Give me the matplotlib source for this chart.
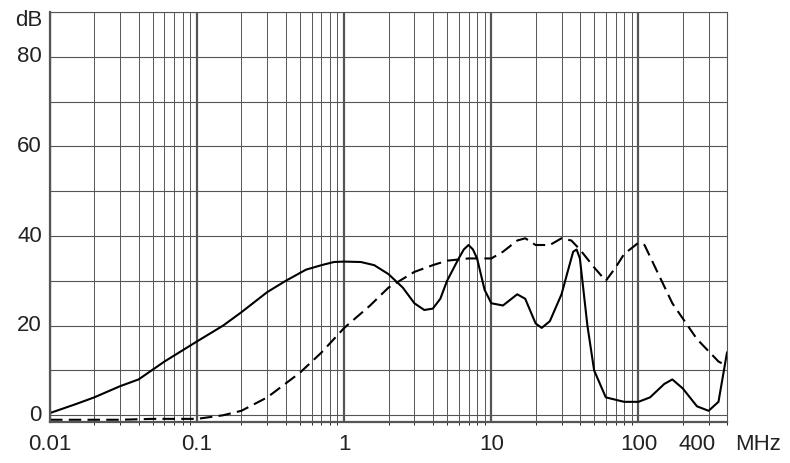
import matplotlib
matplotlib.use("Agg")
import matplotlib.pyplot as plt
import numpy as np
plt.rcParams['font.family'] = ['Liberation Sans', 'DejaVu Sans']

solid_f = [0.01,0.015,0.02,0.03,0.04,0.06,0.1,0.15,0.2,0.3,0.4,0.55,0.7,0.85,1,1.3,1.6,2,2.5,3,3.5,4,4.5,5,6,6.5,7,7.5,8,9,10,12,15,17,20,22,25,30,33,36,38,40,45,50,60,80,100,120,150,170,200,250,300,350,400]
solid_v = [0.5,2.5,4,6.5,8,12,16.5,20,23,27.5,30,32.5,33.5,34.2,34.3,34.2,33.5,31.5,28.5,25,23.5,23.8,26,30,35,37,38,37,35,28,25,24.5,27,26,20.5,19.5,21,27,32,36.5,37,35,20,10,4,3,3,4,7,8,6,2,1,3,14]
dash_f = [0.01,0.03,0.05,0.1,0.15,0.2,0.3,0.5,0.7,1,1.5,2,3,4,5,7,10,12,15,17,20,25,30,35,40,50,60,70,80,100,110,130,170,250,350,400]
dash_v = [-1,-1,-0.8,-0.8,0,1,4,9.5,14,19.5,24.5,28.5,32,33.5,34.5,35,35,36.5,39,39.5,38,38,39.5,39,37,33,30,33,36,38.5,38,33,25,17,12,11]

fig = plt.figure(figsize=(7.9,4.63), dpi=100)
ax = fig.add_axes([50/790, (463-422)/463, (727-50)/790, (422-12)/463])
ax.set_xscale('log')
ax.set_xlim(0.01, 400)
ax.set_ylim(-1.5, 90)
for d in [0.01,0.1,1,10,100]:
    for m in range(1,10):
        x = d*m
        if x <= 400:
            ax.axvline(x, color='#555', lw=1.6 if m==1 else 0.7, zorder=0)
for y in range(0, 91, 10):
    ax.axhline(y, color='#555', lw=0.8, zorder=0)
ax.plot(solid_f, solid_v, color='black', lw=1.5)
ax.plot(dash_f, dash_v, color='black', lw=1.5, ls=(0,(6,3)))
ax.set_xticks([]); ax.set_yticks([])
for s in ax.spines.values():
    s.set_color('#555')
ax.spines['left'].set_linewidth(1.6); ax.spines['bottom'].set_linewidth(1.6)
for y in [0,20,40,60,80]:
    ax.text(-0.012, y, str(y), transform=ax.get_yaxis_transform(), ha='right', va='center', fontsize=16, color='#222')
ax.text(-0.012, 88, 'dB', transform=ax.get_yaxis_transform(), ha='right', va='center', fontsize=16, color='#222')
for x, l in [(0.01,'0.01'),(0.1,'0.1'),(1,'1'),(10,'10'),(100,'100'),(250,'400')]:
    ax.text(x, -0.03, l, transform=ax.get_xaxis_transform(), ha='center', va='top', fontsize=16, color='#222')
ax.text(1.012, -0.03, 'MHz', transform=ax.transAxes, ha='left', va='top', fontsize=16, color='#222')
fig.savefig('out.png', dpi=100)
